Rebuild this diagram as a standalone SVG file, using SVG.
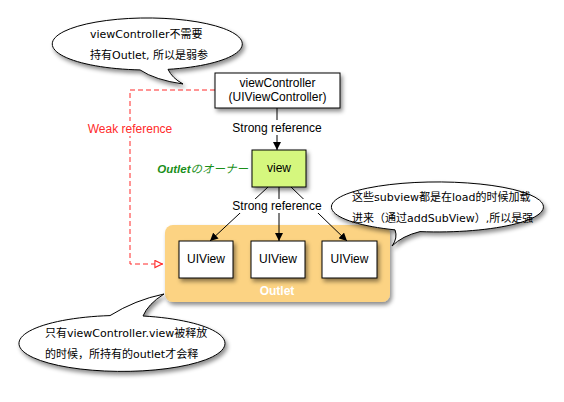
<svg xmlns="http://www.w3.org/2000/svg" width="564" height="402" viewBox="0 0 564 402">
<defs>
<filter id="sh" x="-20%" y="-20%" width="150%" height="160%">
<feDropShadow dx="2" dy="3" stdDeviation="2" flood-color="#000" flood-opacity="0.45"/>
</filter>
<marker id="ah" viewBox="0 0 10 10" refX="10" refY="5" markerWidth="8" markerHeight="8" markerUnits="userSpaceOnUse" orient="auto">
<path d="M0,0 L10,5 L0,10 Z" fill="#000"/>
</marker>
<marker id="ahw" viewBox="0 0 10 10" refX="10" refY="5" markerWidth="9" markerHeight="9" markerUnits="userSpaceOnUse" orient="auto">
<path d="M1,1 L9,5 L1,9 Z" fill="#fff" stroke="#ff2a2a" stroke-width="1.2"/>
</marker>
</defs>
<style>
.t{font-family:"Liberation Sans","Noto Sans CJK SC",sans-serif;font-size:12px;fill:#000}
.c{text-anchor:middle}
.b{font-family:"DejaVu Sans","Noto Sans CJK SC",sans-serif;font-size:11px;fill:#000}
.box{fill:#fff;stroke:#000;stroke-width:1;filter:url(#sh)}
.bub{fill:#fff;stroke:#000;stroke-width:1;filter:url(#sh)}
.ln{stroke:#000;stroke-width:1;fill:none}
</style>
<rect width="564" height="402" fill="#fff"/>

<g id="outlet">
<rect x="165" y="225" width="225" height="77" rx="8" fill="#fcd383" filter="url(#sh)"/>
<text x="277" y="295" class="t c" style="fill:#fff;font-weight:bold">Outlet</text>
</g>

<g id="connectors">
<path class="ln" d="M277,108 L277,150" marker-end="url(#ah)"/>
<rect x="230" y="120" width="94" height="15" fill="#fff"/>
<text x="277" y="132" class="t c">Strong reference</text>
<path class="ln" d="M268,187 L210,241" marker-end="url(#ah)"/>
<path class="ln" d="M279,187 L279,241" marker-end="url(#ah)"/>
<path class="ln" d="M291,187 L347,241" marker-end="url(#ah)"/>
<rect x="231" y="199" width="92" height="14" fill="#fff"/>
<text x="277" y="210" class="t c">Strong reference</text>
<path d="M215,90 L130,90 L130,264 L163,264" fill="none" stroke="#ff2a2a" stroke-width="1" stroke-dasharray="5,3" marker-end="url(#ahw)"/>
<rect x="86" y="121" width="89" height="15" fill="#fff"/>
<text x="130" y="133" class="t c" style="fill:#ff2a2a">Weak reference</text>
</g>

<g id="viewController">
<rect x="215" y="73" width="125" height="35" class="box"/>
<text x="277.5" y="87" class="t c">viewController</text>
<text x="277.5" y="101" class="t c">(UIViewController)</text>
</g>

<g id="view">
<rect x="252" y="150" width="54" height="37" fill="#d5f77e" stroke="#000" stroke-width="1" filter="url(#sh)"/>
<text x="279" y="172" class="t c">view</text>
<text x="248" y="173" style="font-family:'Liberation Sans','Noto Sans CJK JP',sans-serif;font-size:11.5px;font-style:italic;fill:#1b8f1b;text-anchor:end"><tspan font-weight="bold">Outlet</tspan>のオーナー</text>
</g>

<g id="uiview1">
<rect x="179" y="241" width="54" height="37" class="box"/>
<text x="206" y="263" class="t c">UIView</text>
</g>
<g id="uiview2">
<rect x="251" y="241" width="54" height="37" class="box"/>
<text x="278" y="263" class="t c">UIView</text>
</g>
<g id="uiview3">
<rect x="322" y="241" width="55" height="37" class="box"/>
<text x="349.5" y="263" class="t c">UIView</text>
</g>

<g id="bubble-top">
<path class="bub" d="M140,69.9 A95 26 0 1 1 168,69.35 Q172,78 183,84 Q155,80 140,69.9 Z"/>
<text x="90" y="38" class="b">viewController不需要</text>
<text x="90" y="59" class="b">持有Outlet, 所以是弱参</text>
</g>

<g id="bubble-right">
<path class="bub" d="M395,229.85 A106 25 0 1 1 420,231.6 Q402,236 392,246 Q398,238 395,229.85 Z"/>
<text x="352" y="201" class="b">这些subview都是在load的时候加载</text>
<text x="352" y="222" class="b">进来（通过addSubView）,所以是强</text>
</g>

<g id="bubble-bottom">
<path class="bub" d="M143,316 A103 28 0 1 1 110,315.6 Q135,300 164,294 Q148,304 143,316 Z"/>
<text x="45" y="337" class="b">只有viewController.view被释放</text>
<text x="45" y="358" class="b">的时候，所持有的outlet才会释</text>
</g>
</svg>
